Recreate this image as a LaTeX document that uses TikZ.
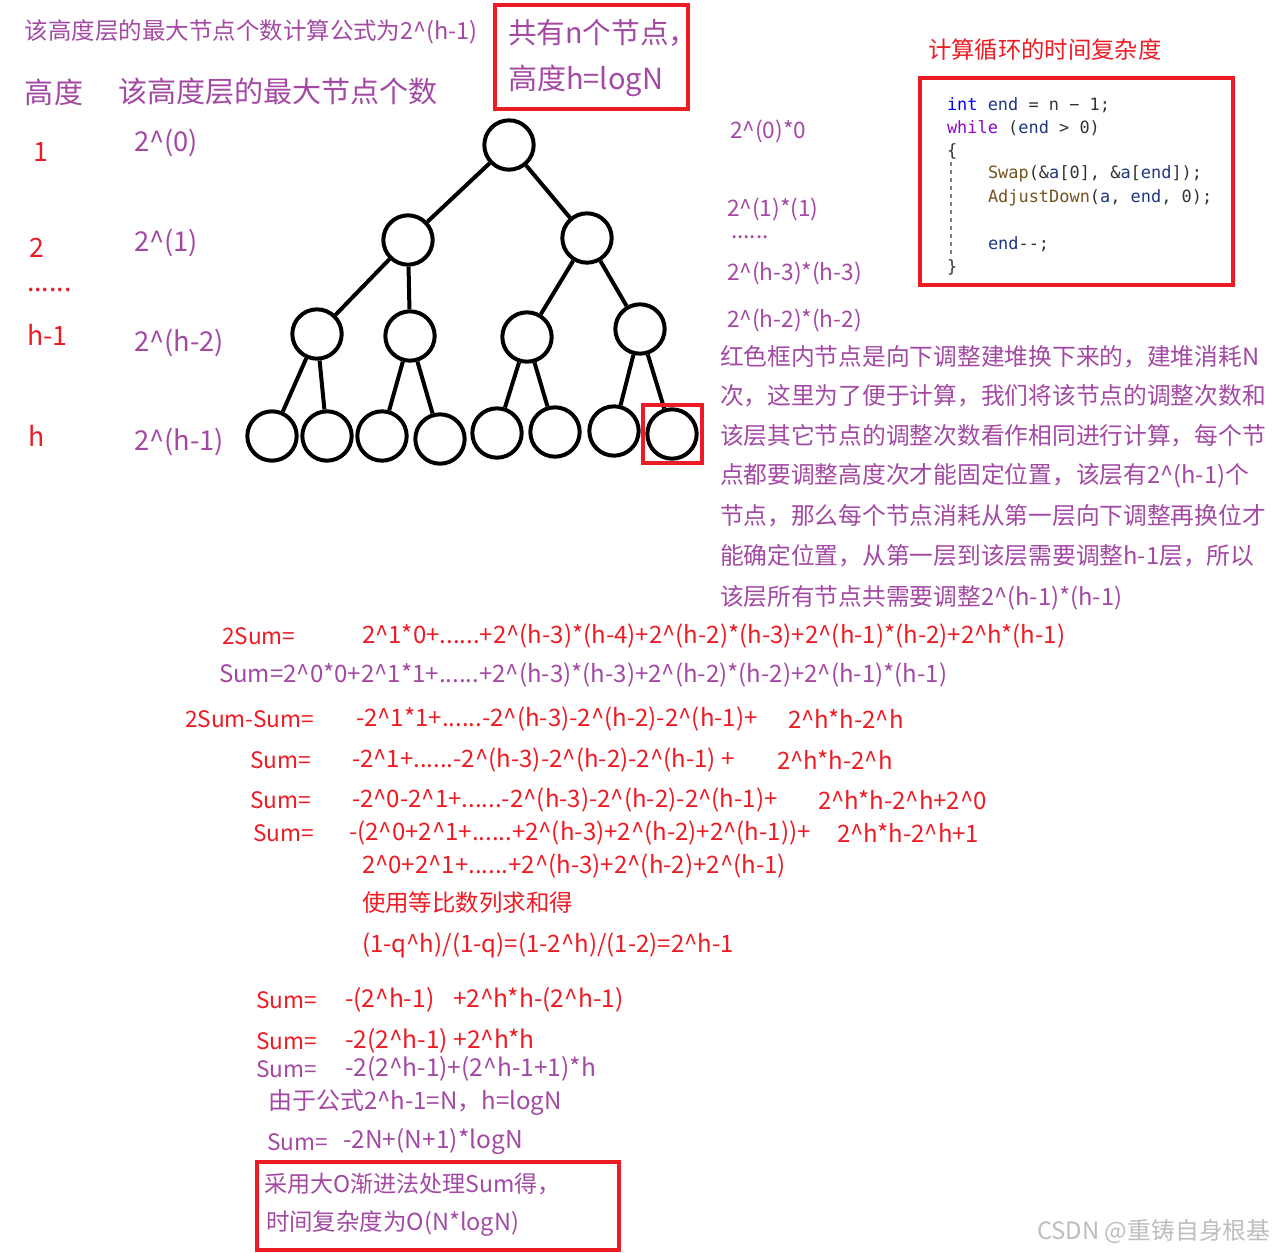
\documentclass[tikz,border=0pt]{standalone}
\usepackage{fontspec}
\setmainfont{Noto Sans CJK SC}
\newfontfamily\codefont{DejaVu Sans Mono}
\definecolor{purp}{RGB}{163,73,164}
\definecolor{redt}{RGB}{237,28,36}
\definecolor{boxred}{RGB}{237,28,36}
\definecolor{kwblue}{RGB}{0,0,255}
\definecolor{kwpurp}{RGB}{143,8,196}
\definecolor{idblue}{RGB}{31,55,127}
\definecolor{fnbrown}{RGB}{116,83,31}
\definecolor{wmgray}{RGB}{190,190,190}
\newcommand\fsz[1]{\fontsize{#1}{#1}\selectfont}
\tikzset{
  txt/.style={anchor=west, inner sep=0pt, outer sep=0pt},
  pu/.style={txt, text=purp},
  rd/.style={txt, text=redt},
  hnode/.style={circle, draw=black, line width=3pt, minimum width=37pt, minimum height=35pt, inner sep=0pt},
  edge/.style={line width=3pt, black},
  redbox/.style={draw=boxred, line width=3.4pt},
  code/.style={txt, font=\codefont\fsz{12.7pt}, text=idblue},
  fm/.style={font=\fsz{18pt}},
  fl/.style={font=\fsz{18.4pt}},
  fs/.style={font=\fsz{17pt}},
}
\catcode`\^=12
\begin{document}
\begin{tikzpicture}[x=0.75pt, y=-0.75pt]
\fill[white] (0,0) rectangle (1279,1253);
\path[use as bounding box] (0,0) rectangle (1279,1253);

% ---- top texts
\node[pu, font=\fsz{17.6pt}] (ttl) at (25,32) {该高度层的最大节点个数计算公式为2^(h-1)};
\node[pu, font=\fsz{21.8pt}] (hd1) at (25,92) {高度};
\node[pu, font=\fsz{21.8pt}] (hd2) at (118,92) {该高度层的最大节点个数};
\draw[redbox] (495,5) rectangle (688,109);
\node[pu, font=\fsz{21.5pt}] (bx1) at (508,33) {共有n个节点，};
\node[pu, font=\fsz{21.8pt}] (bx2) at (508,81) {高度h=logN};

% ---- left column
\node[rd, font=\fsz{20pt}] (l1) at (33,152) {1};
\node[rd, font=\fsz{20pt}] (l2) at (30,248) {2};
\node[rd, font=\fsz{20pt}] (l3) at (27,290) {......};
\node[rd, font=\fsz{20pt}] (l4) at (27,335) {h-1};
\node[rd, font=\fsz{20pt}] (l5) at (28,436) {h};
\node[pu, font=\fsz{20.5pt}] (p1) at (134,143) {2^(0)};
\node[pu, font=\fsz{20.5pt}] (p2) at (134,243) {2^(1)};
\node[pu, font=\fsz{20.5pt}] (p3) at (134,343) {2^(h-2)};
\node[pu, font=\fsz{20.5pt}] (p4) at (134,442) {2^(h-1)};

% ---- tree
\node[hnode] (r) at (509,145) {};
\node[hnode] (a) at (408,240) {};
\node[hnode] (b) at (587,238) {};
\node[hnode] (a1) at (317,334) {};
\node[hnode] (a2) at (410,336) {};
\node[hnode] (b1) at (527,337) {};
\node[hnode] (b2) at (640,329) {};
\node[hnode] (c1) at (272,436) {};
\node[hnode] (c2) at (327,436) {};
\node[hnode] (c3) at (382,436) {};
\node[hnode] (c4) at (440,439) {};
\node[hnode] (c5) at (497,433) {};
\node[hnode] (c6) at (555,432) {};
\node[hnode] (c7) at (614,431) {};
\node[hnode] (c8) at (672,434) {};
\draw[edge] (r) -- (a);
\draw[edge] (r) -- (b);
\draw[edge] (a) -- (a1);
\draw[edge] (a) -- (a2);
\draw[edge] (b) -- (b1);
\draw[edge] (b) -- (b2);
\draw[edge] (a1) -- (c1);
\draw[edge] (a1) -- (c2);
\draw[edge] (a2) -- (c3);
\draw[edge] (a2) -- (c4);
\draw[edge] (b1) -- (c5);
\draw[edge] (b1) -- (c6);
\draw[edge] (b2) -- (c7);
\draw[edge] (b2) -- (c8);
\draw[redbox] (643,405) rectangle (702,463);

% ---- per-level labels
\node[pu, font=\fsz{17pt}] (m1) at (730,131) {2^(0)*0};
\node[pu, font=\fsz{17pt}] (m2) at (727,209) {2^(1)*(1)};
\node[pu, font=\fsz{17pt}] (m3) at (731,237) {......};
\node[pu, font=\fsz{17pt}] (m4) at (727,273) {2^(h-3)*(h-3)};
\node[pu, font=\fsz{17pt}] (m5) at (727,320) {2^(h-2)*(h-2)};

% ---- code box
\node[rd, font=\fsz{17.5pt}] (ct) at (928,50) {计算循环的时间复杂度};
\draw[redbox] (920,78) rectangle (1233,285);
\node[code] (k1) at (947,105) {\textcolor{kwblue}{int} end \textcolor{black!80}{= n − 1;}};
\node[code] (k2) at (947,128) {\textcolor{kwpurp}{while} \textcolor{black!80}{(}end \textcolor{black!80}{> 0)}};
\node[code, text=black!80] (k3) at (947,151) {\{};
\node[code] (k4) at (988,174) {\textcolor{fnbrown}{Swap}\textcolor{black!80}{(\&}a\textcolor{black!80}{[0], \&}a\textcolor{black!80}{[}end\textcolor{black!80}{]);}};
\node[code] (k5) at (988,198) {\textcolor{fnbrown}{AdjustDown}\textcolor{black!80}{(}a\textcolor{black!80}{, }end\textcolor{black!80}{, 0);}};
\node[code] (k6) at (988,244) {end\textcolor{black!80}{-{}-;}};
\node[code, text=black!80] (k7) at (947,267) {\}};
\draw[gray, dashed, line width=0.8pt] (951,162) -- (951,258);

% ---- paragraph
\node[pu, font=\fsz{17.8pt}] (g1) at (720,357) {红色框内节点是向下调整建堆换下来的，建堆消耗N};
\node[pu, font=\fsz{17.8pt}] (g2) at (720,396) {次，这里为了便于计算，我们将该节点的调整次数和};
\node[pu, font=\fsz{17.8pt}] (g3) at (720,436) {该层其它节点的调整次数看作相同进行计算，每个节};
\node[pu, font=\fsz{17.8pt}] (g4) at (720,476) {点都要调整高度次才能固定位置，该层有2^(h-1)个};
\node[pu, font=\fsz{17.8pt}] (g5) at (720,516) {节点，那么每个节点消耗从第一层向下调整再换位才};
\node[pu, font=\fsz{17.8pt}] (g6) at (720,556) {能确定位置，从第一层到该层需要调整h-1层，所以};
\node[pu, font=\fsz{17.8pt}] (g7) at (720,598) {该层所有节点共需要调整2^(h-1)*(h-1)};

% ---- derivation
\node[rd, fs] (f1a) at (222,636) {2Sum=};
\node[rd, fm] (f1b) at (362,636) {2^1*0+......+2^(h-3)*(h-4)+2^(h-2)*(h-3)+2^(h-1)*(h-2)+2^h*(h-1)};
\node[pu, fm] (f2) at (219,675) {Sum=2^0*0+2^1*1+......+2^(h-3)*(h-3)+2^(h-2)*(h-2)+2^(h-1)*(h-1)};
\node[rd, fs] (f3a) at (185,719) {2Sum-Sum=};
\node[rd, fm] (f3b) at (356,719) {-2^1*1+......-2^(h-3)-2^(h-2)-2^(h-1)+};
\node[rd, fm] (f3c) at (788,719) {2^h*h-2^h};
\node[rd, fs] (f4a) at (250,760) {Sum=};
\node[rd, fm] (f4b) at (352,760) {-2^1+......-2^(h-3)-2^(h-2)-2^(h-1) +};
\node[rd, fm] (f4c) at (777,760) {2^h*h-2^h};
\node[rd, fs] (f5a) at (250,800) {Sum=};
\node[rd, fm] (f5b) at (352,800) {-2^0-2^1+......-2^(h-3)-2^(h-2)-2^(h-1)+};
\node[rd, fm] (f5c) at (818,800) {2^h*h-2^h+2^0};
\node[rd, fs] (f6a) at (253,833) {Sum=};
\node[rd, fm] (f6b) at (349,833) {-(2^0+2^1+......+2^(h-3)+2^(h-2)+2^(h-1))+};
\node[rd, fm] (f6c) at (837,833) {2^h*h-2^h+1};
\node[rd, fm] (f7) at (362,866) {2^0+2^1+......+2^(h-3)+2^(h-2)+2^(h-1)};
\node[rd, font=\fsz{17.6pt}] (f8) at (362,903) {使用等比数列求和得};
\node[rd, fm] (f9) at (362,945) {(1-q^h)/(1-q)=(1-2^h)/(1-2)=2^h-1};
\node[rd, fs] (f10a) at (256,1000) {Sum=};
\node[rd, fl] (f10b) at (345,1000) {-(2^h-1)};
\node[rd, fl] (f10c) at (453,1000) {+2^h*h-(2^h-1)};
\node[rd, fs] (f11a) at (256,1041) {Sum=};
\node[rd, fl] (f11b) at (345,1041) {-2(2^h-1) +2^h*h};
\node[pu, fs] (f12a) at (256,1069) {Sum=};
\node[pu, fl] (f12b) at (345,1069) {-2(2^h-1)+(2^h-1+1)*h};
\node[pu, font=\fsz{18pt}] (f13) at (268,1102) {由于公式2^h-1=N，h=logN};
\node[pu, fs] (f14a) at (267,1142) {Sum=};
\node[pu, fl] (f14b) at (343,1142) {-2N+(N+1)*logN};
\draw[redbox] (257,1162) rectangle (619,1250);
\node[pu, font=\fsz{17.3pt}] (z1) at (264,1184) {采用大O渐进法处理Sum得，};
\node[pu, font=\fsz{17.6pt}] (z2) at (266,1224) {时间复杂度为O(N*logN)};

% ---- watermark
\node[txt, text=wmgray, font=\fsz{17.9pt}] (wm) at (1037,1231) {CSDN @重铸自身根基};
\end{tikzpicture}
\end{document}
